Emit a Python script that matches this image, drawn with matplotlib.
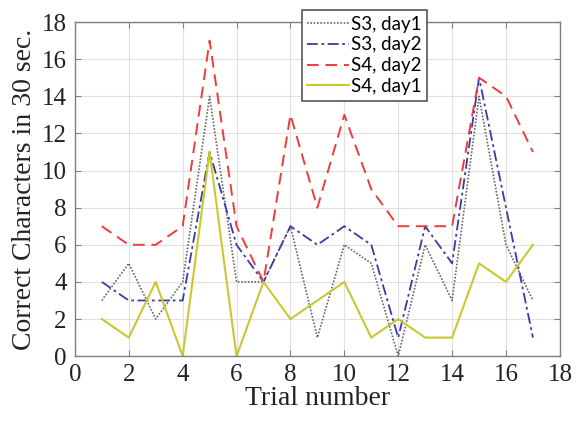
import matplotlib
matplotlib.use("Agg")
import matplotlib.pyplot as plt
import numpy as np

trials = list(range(1, 18))
s3_day1 = [3, 5, 2, 4, 14, 4, 4, 7, 1, 6, 5, 0, 6, 3, 14, 6, 3]
s3_day2 = [4, 3, 3, 3, 11, 6, 4, 7, 6, 7, 6, 1, 7, 5, 15, 8, 1]
s4_day2 = [7, 6, 6, 7, 17, 7, 4, 13, 8, 13, 9, 7, 7, 7, 15, 14, 11]
s4_day1 = [2, 1, 4, 0, 11, 0, 4, 2, 3, 4, 1, 2, 1, 1, 5, 4, 6]
labels = ["S3, day1", "S3, day2", "S4, day2", "S4, day1"]
xticks = list(range(0, 19, 2))
yticks = list(range(0, 19, 2))

fig = plt.figure(figsize=(5.76, 4.24), dpi=100)
ax = fig.add_axes([0.130, 0.160, 0.842, 0.788])

ax.plot(trials, s3_day1, color="#666666", linestyle=(0, (1, 1)), linewidth=1.2, label=labels[0])
ax.plot(trials, s3_day2, color="#3a3aa8", linestyle=(0, (6, 2, 1.5, 2)), linewidth=1.3, label=labels[1])
ax.plot(trials, s4_day2, color="#ee3b3b", linestyle=(0, (6, 3.5)), linewidth=1.4, label=labels[2])
ax.plot(trials, s4_day1, color="#c9c832", linestyle="-", linewidth=1.5, label=labels[3])

ax.set_xlim(0, 18)
ax.set_ylim(0, 18)
ax.set_xticks(xticks)
ax.set_yticks(yticks)
ax.grid(True, color="#e0e0e0", linewidth=0.8)
ax.set_axisbelow(True)
for s in ax.spines.values():
    s.set_color("#808080")
    s.set_linewidth(1.0)
ax.tick_params(direction="in", top=True, right=True, length=4, color="#808080",
               labelsize=18, pad=6)
for lab in ax.get_xticklabels() + ax.get_yticklabels():
    lab.set_family("Liberation Serif")
    lab.set_color("#222222")
ax.set_xlabel("Trial number", family="Liberation Serif", fontsize=20, color="#222222", labelpad=0)
ax.set_ylabel("Correct Characters in 30 sec.", family="Liberation Serif", fontsize=20, color="#222222", labelpad=3)

leg = ax.legend(loc="upper left", bbox_to_anchor=(0.468, 1.036),
                prop={"family": "Lato", "size": 13.5},
                frameon=True, fancybox=False, edgecolor="#555555", framealpha=1,
                handlelength=2.2, handletextpad=0.1, borderpad=0.3, labelspacing=0.2,
                borderaxespad=0)
leg.get_frame().set_linewidth(1.2)

fig.savefig("out.png", dpi=100)
